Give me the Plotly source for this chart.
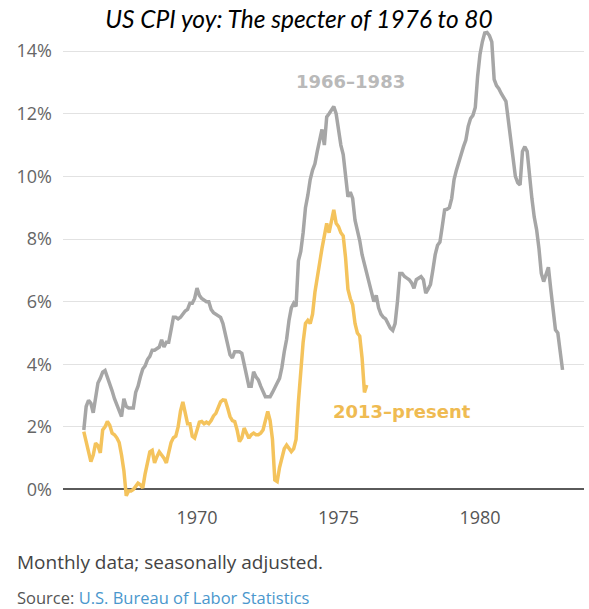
import plotly.graph_objects as go

# Year-over-year CPI change, monthly, seasonally adjusted (%)
# Series 1: Jan 1966 - Dec 1982
cpi_1966_1983 = [
    1.9, 2.65, 2.85, 2.75, 2.45, 2.9, 3.4, 3.55, 3.75, 3.8, 3.6, 3.4,        # 1966
    3.15, 2.9, 2.7, 2.5, 2.33, 2.9, 2.65, 2.6, 2.6, 2.6, 3.1, 3.3,           # 1967
    3.6, 3.85, 3.95, 4.15, 4.25, 4.45, 4.45, 4.5, 4.55, 4.78, 4.55, 4.7,     # 1968
    4.7, 5.1, 5.5, 5.5, 5.45, 5.5, 5.6, 5.7, 5.75, 5.95, 5.95, 6.1,          # 1969
    6.43, 6.2, 6.1, 6.05, 6.0, 6.0, 5.75, 5.65, 5.6, 5.57, 5.5, 5.3,         # 1970
    5.0, 4.7, 4.3, 4.2, 4.4, 4.4, 4.4, 4.35, 4.0, 3.7, 3.3, 3.3,             # 1971
    3.76, 3.6, 3.5, 3.3, 3.1, 2.96, 2.96, 2.96, 3.1, 3.28, 3.4, 3.55,        # 1972
    3.9, 4.4, 4.8, 5.4, 5.8, 5.95, 5.85, 7.3, 7.6, 8.2, 9.0, 9.4,            # 1973
    9.9, 10.2, 10.4, 10.8, 11.2, 11.5, 11.0, 11.9, 12.0, 12.1, 12.23, 12.0,  # 1974
    11.5, 11.0, 10.7, 10.1, 9.35, 9.5, 9.3, 8.6, 8.3, 7.95, 7.5, 7.2,        # 1975
    7.0, 6.7, 6.3, 6.0, 6.2, 5.8, 5.6, 5.5, 5.45, 5.3, 5.15, 5.08,           # 1976
    5.3, 6.0, 6.9, 6.9, 6.8, 6.75, 6.7, 6.6, 6.43, 6.7, 6.75, 6.8,           # 1977
    6.7, 6.27, 6.4, 6.55, 7.0, 7.5, 7.8, 7.9, 8.4, 8.93, 8.95, 9.0,          # 1978
    9.3, 9.9, 10.2, 10.5, 10.7, 10.95, 11.16, 11.6, 11.85, 11.95, 12.2, 13.2,  # 1979
    13.9, 14.3, 14.58, 14.6, 14.5, 14.3, 13.1, 12.9, 12.8, 12.65, 12.5, 12.4,  # 1980
    11.8, 11.2, 10.5, 10.0, 9.8, 9.73, 10.8, 10.95, 10.8, 10.0, 9.3, 8.7,    # 1981
    8.3, 7.7, 6.9, 6.64, 6.9, 7.1, 6.4, 5.8, 5.1, 5.0, 4.4, 3.82,            # 1982
]

# Series 2: the recent period, month by month
cpi_2013_present = [
    1.85, 1.5, 1.2, 0.89, 1.1, 1.48, 1.4, 1.17, 1.9, 2.0, 2.17, 2.05,
    1.8, 1.75, 1.65, 1.5, 1.1, 0.6, -0.2, -0.05, -0.05, 0.0, 0.1, 0.2,
    0.15, 0.05, 0.5, 0.9, 1.2, 1.25, 0.85, 1.05, 1.2, 1.1, 1.0, 0.85,
    1.2, 1.5, 1.65, 1.7, 2.0, 2.5, 2.8, 2.4, 2.1, 2.1, 1.7, 1.64,
    1.9, 2.15, 2.17, 2.1, 2.15, 2.1, 2.2, 2.35, 2.43, 2.6, 2.8, 2.86,
    2.85, 2.6, 2.33, 2.2, 2.17, 1.9, 1.53, 1.65, 1.96, 1.8, 1.64, 1.75,
    1.8, 1.75, 1.75, 1.8, 1.9, 2.2, 2.49, 2.2, 1.6, 0.3, 0.25, 0.7,
    1.05, 1.3, 1.42, 1.3, 1.21, 1.3, 1.6, 2.8, 3.9, 4.7, 5.3, 5.4,
    5.3, 5.6, 6.3, 6.8, 7.3, 7.7, 8.1, 8.5, 8.2, 8.57, 8.93, 8.5,
    8.4, 8.2, 8.1, 7.4, 6.4, 6.1, 5.9, 5.3, 5.0, 4.9, 4.2, 3.1,
    3.34,
]

START_YEAR = 1966
x_ticks = [1970, 1975, 1980]
y_ticks = [0, 2, 4, 6, 8, 10, 12, 14]
y_tick_labels = [f"{v}%" for v in y_ticks]

GRAY = "#a6a6a6"
GOLD = "#f4c35c"
TEXT = "#555555"
BODY_FONT = "Open Sans, Roboto, sans-serif"
LABEL_FONT = "DejaVu Sans, sans-serif"


def month_axis(values):
    return [START_YEAR + i / 12 for i in range(len(values))]


fig = go.Figure()
fig.add_trace(go.Scatter(
    x=month_axis(cpi_1966_1983), y=cpi_1966_1983, mode="lines",
    line=dict(color=GRAY, width=3.5), name="1966–1983",
))
fig.add_trace(go.Scatter(
    x=month_axis(cpi_2013_present), y=cpi_2013_present, mode="lines",
    line=dict(color=GOLD, width=3.5), name="2013–present",
))

fig.update_layout(
    width=589, height=609,
    margin=dict(l=63, r=5, t=28, b=107),
    paper_bgcolor="white", plot_bgcolor="white",
    showlegend=False,
    font=dict(family=BODY_FONT, color=TEXT),
    title=dict(
        text="US CPI yoy: The specter of 1976 to 80",
        font=dict(family="Lato", size=24.5, color="black", style="italic"),
        x=0.453, xanchor="center", xref="paper",
        y=1 - 19 / 609, yanchor="middle", yref="container",
    ),
)

fig.update_xaxes(
    range=[1965.265, 1983.675],
    tickvals=x_ticks, ticktext=[str(t) for t in x_ticks],
    showgrid=False, zeroline=False, showline=False, ticks="",
    ticklabelstandoff=3,
    tickfont=dict(family=BODY_FONT, size=18, color=TEXT),
)
fig.update_yaxes(
    range=[-0.40, 14.74],
    tickvals=y_ticks, ticktext=y_tick_labels,
    showgrid=True, gridcolor="#e2e2e2", gridwidth=1,
    zeroline=True, zerolinecolor="#5a5a5a", zerolinewidth=2,
    showline=False, ticks="",
    ticklabelstandoff=10,
    tickfont=dict(family=BODY_FONT, size=18, color="#666666"),
)

# Series labels
fig.add_annotation(
    x=1975.44, y=13.02, xref="x", yref="y", showarrow=False,
    text="<b>1966–1983</b>",
    font=dict(family=LABEL_FONT, size=18, color="#b9b9b9"),
)
fig.add_annotation(
    x=1977.26, y=2.48, xref="x", yref="y", showarrow=False,
    text="<b>2013–present</b>",
    font=dict(family=LABEL_FONT, size=18, color="#efbb52"),
)

# Footer notes
fig.add_annotation(
    x=-0.0921, y=-0.1266, xref="paper", yref="paper",
    xanchor="left", yanchor="middle", showarrow=False,
    text="Monthly data; seasonally adjusted.",
    font=dict(family=BODY_FONT, size=19, color="#444444"),
)
fig.add_annotation(
    x=-0.0921, y=-0.2012, xref="paper", yref="paper",
    xanchor="left", yanchor="middle", showarrow=False,
    text="Source: <span style='color:#4a97cd'>U.S. Bureau of Labor Statistics</span>",
    font=dict(family=BODY_FONT, size=16.5, color="#555555"),
)

fig.write_html("out.html")
